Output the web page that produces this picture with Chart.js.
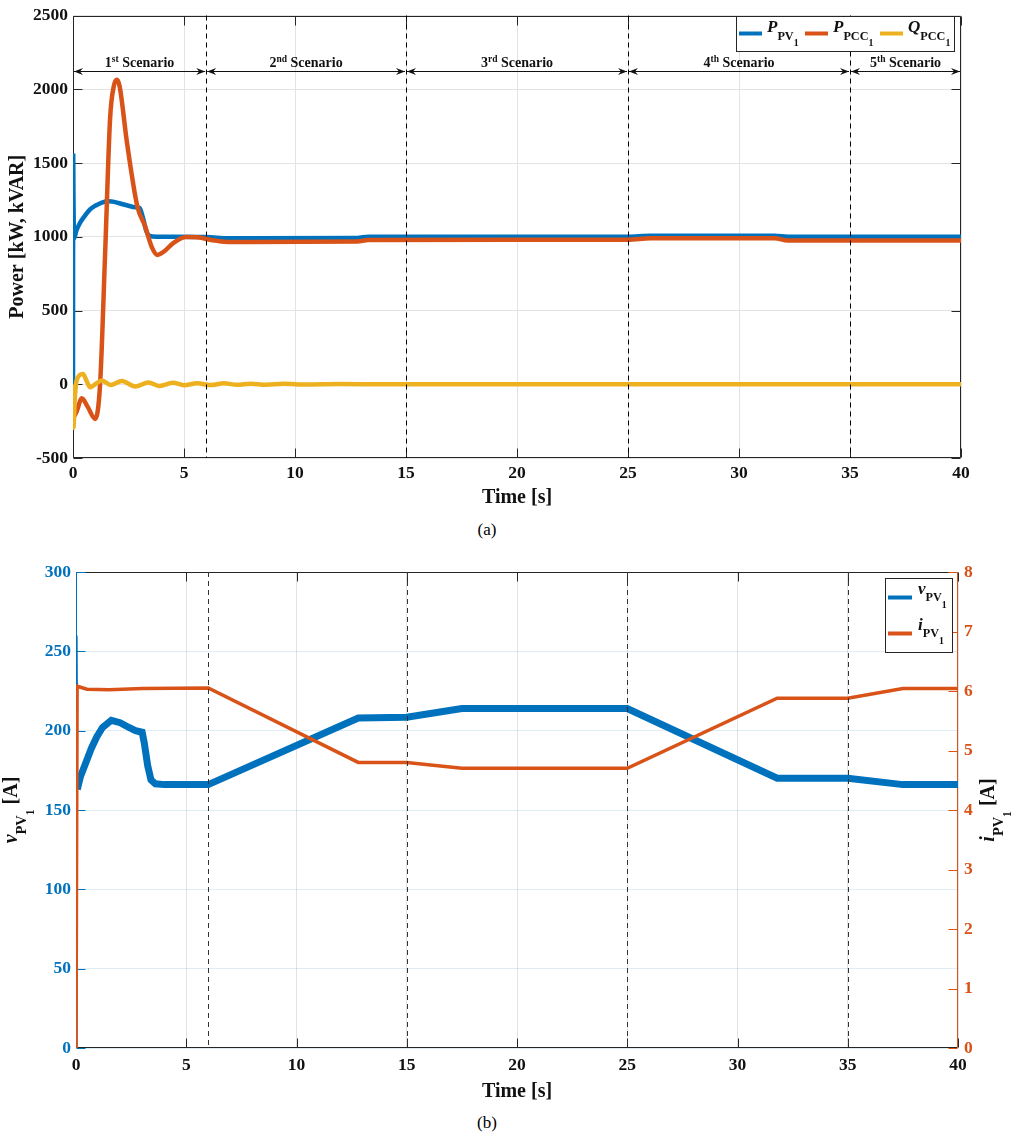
<!DOCTYPE html>
<html>
<head>
<meta charset="utf-8">
<title>PV power and voltage/current</title>
<script src="https://cdn.jsdelivr.net/npm/chart.js@4.4.0/dist/chart.umd.min.js"></script>
<style>
  body { margin: 0; background: #fff; width: 1017px; height: 1138px; position: relative; overflow: hidden; }
  canvas { position: absolute; left: 0; }
  #powerChart { top: 0; }
  #pvChart { top: 540px; }
  .cap { position: absolute; width: 40px; text-align: center; font: 17px "Liberation Serif", serif; line-height: 20px; color: #000; }
</style>
</head>
<body>
<canvas id="powerChart" width="1017" height="515"></canvas>
<div class="cap" style="left:467px; top:520px;">(a)</div>
<canvas id="pvChart" width="1017" height="570"></canvas>
<div class="cap" style="left:467px; top:1113px;">(b)</div>
<script>
const BLUE = '#0072BD', ORANGE = '#D95319', YELLOW = '#EDB120', INK = '#262626';
const SERIF = '"Liberation Serif", "Times New Roman", serif';

// (a) powers at the PV unit and the PCC
const tPV  = [0, 0.01, 0.02, 0.05, 0.15, 0.3, 0.5, 0.77, 1.0, 1.3, 1.6, 1.9, 2.2, 2.5, 2.8, 3.0, 3.15, 3.3, 3.45, 3.8, 6.0, 7.0, 12.8, 13.3, 25, 26, 31.6, 32.2, 40];
const pPV  = [0, 1550, 1300, 990, 1040, 1090, 1135, 1185, 1210, 1232, 1240, 1235, 1222, 1210, 1200, 1195, 1130, 1040, 1005, 1000, 998, 990, 992, 1000, 1000, 1006, 1006, 1000, 1000];

const tPCC = [0, 0.15, 0.4, 0.65, 1.0, 1.22, 1.45, 1.67, 1.85, 1.98, 2.1, 2.43, 2.9, 3.25, 3.55, 3.8, 4.1, 4.5, 5.1, 5.7, 6.0, 6.5, 7.0, 12.8, 13.3, 25, 26, 31.6, 32.2, 40];
const pPCC = [-230, -190, -95, -150, -235, 0, 900, 1800, 2030, 2065, 2020, 1640, 1205, 1070, 930, 877, 900, 955, 998, 995, 985, 972, 965, 968, 978, 980, 990, 990, 975, 975];

const tQ   = [0, 0.02, 0.08, 0.17, 0.45, 0.62, 0.77, 1.0, 1.3, 1.7, 2.2, 2.8, 3.4, 3.9, 4.5, 5.0, 5.6, 6.2, 6.8, 7.4, 8.0, 8.7, 9.5, 10.5, 12, 14, 40];
const qPCC = [0, -295, -100, 30, 70, 20, -20, 0, 25, -5, 22, -15, 12, -12, 10, -6, 6, -5, 6, -4, 4, -3, 3, -2, 1, 0, 0];

// (b) PV voltage and current
const tV  = [0, 0.04, 0.05, 0.06, 0.07, 0.2, 0.48, 0.7, 0.94, 1.2, 1.6, 2.0, 2.4, 2.7, 3.0, 3.1, 3.25, 3.4, 3.6, 4.0, 6.0, 12.8, 15, 17.5, 25, 31.8, 35, 37.5, 40];
const vPV = [0, 260, 230, 163, 163, 171, 181, 189, 196, 202, 206.5, 205, 202, 200, 199, 192, 178, 169, 166.5, 166, 166, 208, 208.5, 214, 214, 170, 170, 166, 166];

const tI  = [0, 0.05, 0.5, 1.5, 3.0, 6.0, 12.8, 15, 17.5, 25, 31.8, 35, 37.5, 40];
const iPV = [0, 6.08, 6.03, 6.02, 6.04, 6.05, 4.8, 4.8, 4.7, 4.7, 5.88, 5.88, 6.04, 6.04];

const scenarioEdges = [0, 6, 15, 25, 35, 40];
const scenarioNums = ['1', '2', '3', '4', '5'];
const scenarioSups = ['st', 'nd', 'rd', 'th', 'th'];

const pts = (ts, vs) => ts.map((t, i) => ({ x: t, y: vs[i] }));
const f = (style, size) => `${style} ${size}px ${SERIF}`;
const plain = v => String(v);

function richText(ctx, parts, x, y, align) {
  let w = 0;
  parts.forEach(p => { ctx.font = p.font; w += ctx.measureText(p.text).width; });
  let cx = align === 'center' ? x - w / 2 : x;
  ctx.textAlign = 'left';
  ctx.textBaseline = 'alphabetic';
  parts.forEach(p => {
    ctx.font = p.font;
    ctx.fillText(p.text, cx, y + (p.dy || 0));
    cx += ctx.measureText(p.text).width;
  });
  return w;
}

// italic symbol with bold subscript and a second-level "1"
const subLabel = (main, sub, size) => [
  { text: main, font: f('italic bold', size) },
  { text: sub, font: f('bold', size * 0.72), dy: size * 0.45 },
  { text: '1', font: f('bold', size * 0.58), dy: size * 0.85 }
];

function seg(ctx, x1, y1, x2, y2, color) {
  ctx.strokeStyle = color;
  ctx.beginPath();
  ctx.moveTo(x1, y1);
  ctx.lineTo(x2, y2);
  ctx.stroke();
}

// box with inward ticks, MATLAB style
function drawFrame(chart, leftColor, rightColor, rightScale) {
  const { ctx, chartArea: a, scales } = chart;
  const tl = 9;
  ctx.save();
  ctx.lineWidth = 1;
  const L = Math.round(a.left) + 0.5, R = Math.round(a.right) - 0.5;
  const T = Math.round(a.top) + 0.5, B = Math.round(a.bottom) - 0.5;
  seg(ctx, L, T, R, T, INK);
  seg(ctx, L, B, R, B, INK);
  scales.x.ticks.forEach(t => {
    const x = Math.round(scales.x.getPixelForValue(t.value)) + 0.5;
    seg(ctx, x, B, x, B - tl, INK);
    seg(ctx, x, T, x, T + tl, INK);
  });
  seg(ctx, L, T, L, B, leftColor);
  scales.y.ticks.forEach(t => {
    const y = Math.round(scales.y.getPixelForValue(t.value)) + 0.5;
    seg(ctx, L, y, L + tl, y, leftColor);
  });
  seg(ctx, R, T, R, B, rightColor);
  const rs = scales[rightScale];
  rs.ticks.forEach(t => {
    const y = Math.round(rs.getPixelForValue(t.value)) + 0.5;
    seg(ctx, R, y, R - tl, y, rightColor);
  });
  ctx.restore();
}

function drawScenarioLines(chart, color) {
  const { ctx, chartArea: a, scales } = chart;
  ctx.save();
  ctx.lineWidth = 1;
  ctx.setLineDash([5, 4]);
  scenarioEdges.slice(1, -1).forEach(v => {
    const x = Math.round(scales.x.getPixelForValue(v)) + 0.5;
    seg(ctx, x, a.top, x, a.bottom, color);
  });
  ctx.restore();
}

function arrowHead(ctx, x, y, dir) {
  ctx.beginPath();
  ctx.moveTo(x, y);
  ctx.lineTo(x - dir * 9, y - 3.5);
  ctx.lineTo(x - dir * 6, y);
  ctx.lineTo(x - dir * 9, y + 3.5);
  ctx.closePath();
  ctx.fill();
}

const powerPlugin = {
  id: 'powerDecor',
  beforeDatasetsDraw(chart) {
    drawFrame(chart, INK, INK, 'y');
  },
  afterDatasetsDraw(chart) {
    const { ctx, chartArea: a, scales } = chart;
    drawScenarioLines(chart, '#000');
    // scenario spans
    ctx.save();
    ctx.fillStyle = '#111';
    ctx.strokeStyle = '#111';
    ctx.lineWidth = 1;
    const ay = 71.5;
    for (let i = 0; i < scenarioNums.length; i++) {
      const x1 = scales.x.getPixelForValue(scenarioEdges[i]) + 1;
      const x2 = scales.x.getPixelForValue(scenarioEdges[i + 1]) - 1;
      seg(ctx, x1, ay, x2, ay, '#111');
      arrowHead(ctx, x1, ay, -1);
      arrowHead(ctx, x2, ay, 1);
      richText(ctx, [
        { text: scenarioNums[i], font: f('bold', 14) },
        { text: scenarioSups[i], font: f('bold', 9.5), dy: -5 },
        { text: ' Scenario', font: f('bold', 14) }
      ], (x1 + x2) / 2, 67, 'center');
    }
    ctx.restore();

    // legend
    ctx.save();
    ctx.fillStyle = '#fff';
    ctx.fillRect(736, 16, 218, 35);
    ctx.strokeStyle = INK;
    ctx.lineWidth = 1;
    ctx.strokeRect(736.5, 16.5, 218, 35);
    const items = [
      { c: BLUE, x: 739, main: 'P', sub: 'PV' },
      { c: ORANGE, x: 805, main: 'P', sub: 'PCC' },
      { c: YELLOW, x: 880, main: 'Q', sub: 'PCC' }
    ];
    items.forEach(it => {
      ctx.lineWidth = 4;
      seg(ctx, it.x, 33.5, it.x + 23, 33.5, it.c);
      ctx.fillStyle = '#111';
      richText(ctx, subLabel(it.main, it.sub, 17), it.x + 28, 32);
    });
    ctx.restore();

    // axis titles
    ctx.save();
    ctx.fillStyle = '#111';
    ctx.font = f('bold', 20);
    ctx.textAlign = 'center';
    ctx.textBaseline = 'middle';
    ctx.fillText('Time [s]', (a.left + a.right) / 2, 498);
    ctx.translate(18, (a.top + a.bottom) / 2);
    ctx.rotate(-Math.PI / 2);
    ctx.fillText('Power [kW, kVAR]', 0, 0);
    ctx.restore();
  }
};

const pvPlugin = {
  id: 'pvDecor',
  beforeDatasetsDraw(chart) {
    drawFrame(chart, BLUE, ORANGE, 'y1');
  },
  afterDatasetsDraw(chart) {
    const { ctx, chartArea: a } = chart;
    drawScenarioLines(chart, '#333');

    // legend
    ctx.save();
    ctx.fillStyle = '#fff';
    ctx.fillRect(885, 38, 67, 74);
    ctx.strokeStyle = INK;
    ctx.lineWidth = 1;
    ctx.strokeRect(885.5, 38.5, 67, 74);
    [{ c: BLUE, y: 57.5, main: 'v' }, { c: ORANGE, y: 93.5, main: 'i' }].forEach(it => {
      ctx.lineWidth = 4;
      seg(ctx, 888, it.y, 912, it.y, it.c);
      ctx.fillStyle = '#111';
      richText(ctx, subLabel(it.main, 'PV', 17), 918, it.y - 4);
    });
    ctx.restore();

    // axis titles
    ctx.save();
    ctx.fillStyle = '#111';
    ctx.font = f('bold', 20);
    ctx.textAlign = 'center';
    ctx.textBaseline = 'middle';
    ctx.fillText('Time [s]', (a.left + a.right) / 2, 552);
    const cy = (a.top + a.bottom) / 2;
    [{ x: 17, main: 'v' }, { x: 994, main: 'i' }].forEach(t => {
      ctx.save();
      ctx.translate(t.x, cy);
      ctx.rotate(-Math.PI / 2);
      richText(ctx, subLabel(t.main, 'PV', 20).concat([{ text: ' [A]', font: f('bold', 20) }]), 0, 0, 'center');
      ctx.restore();
    });
    ctx.restore();
  }
};

const tickFont = { family: SERIF, size: 17.5, weight: 'bold' };
const baseOpts = {
  responsive: false,
  animation: false,
  devicePixelRatio: 1,
  events: [],
  plugins: { legend: { display: false }, tooltip: { enabled: false } },
  elements: { point: { radius: 0 } }
};

new Chart(document.getElementById('powerChart'), {
  type: 'line',
  data: {
    datasets: [
      { data: pts(tPV, pPV), borderColor: BLUE, borderWidth: 4.5, cubicInterpolationMode: 'monotone', order: 3 },
      { data: pts(tPCC, pPCC), borderColor: ORANGE, borderWidth: 4.5, cubicInterpolationMode: 'monotone', order: 2 },
      { data: pts(tQ, qPCC), borderColor: YELLOW, borderWidth: 4.5, cubicInterpolationMode: 'monotone', order: 1 }
    ]
  },
  options: Object.assign({}, baseOpts, {
    layout: { padding: { left: 0, right: 56, top: 10, bottom: 0 } },
    scales: {
      x: {
        type: 'linear', min: 0, max: 40,
        ticks: { stepSize: 5, font: tickFont, color: '#111', padding: 5, maxRotation: 0, callback: plain },
        grid: { color: '#e3e3e3', drawTicks: false },
        border: { display: false },
        afterFit: s => { s.height = 57; }
      },
      y: {
        min: -500, max: 2500,
        ticks: { stepSize: 500, font: tickFont, color: '#111', padding: 5, callback: plain },
        grid: { color: '#e3e3e3', drawTicks: false },
        border: { display: false },
        afterFit: s => { s.width = 73; }
      }
    }
  }),
  plugins: [powerPlugin]
});

new Chart(document.getElementById('pvChart'), {
  type: 'line',
  data: {
    datasets: [
      {
        // the start-up spike is drawn thin, the rest with the heavy trace
        data: pts(tV, vPV), borderColor: BLUE, borderWidth: 7, yAxisID: 'y', order: 2,
        segment: { borderWidth: c => (c.p1.parsed.x <= 0.06 ? 1.5 : undefined) }
      },
      { data: pts(tI, iPV), borderColor: ORANGE, borderWidth: 3.5, yAxisID: 'y1', order: 1 }
    ]
  },
  options: Object.assign({}, baseOpts, {
    layout: { padding: { left: 0, right: 0, top: 32, bottom: 0 } },
    scales: {
      x: {
        type: 'linear', min: 0, max: 40,
        ticks: { stepSize: 5, font: tickFont, color: '#111', padding: 7, maxRotation: 0, callback: plain },
        grid: { color: '#e3e3e3', drawTicks: false },
        border: { display: false },
        afterFit: s => { s.height = 62; }
      },
      y: {
        position: 'left', min: 0, max: 300,
        ticks: { stepSize: 50, font: tickFont, color: BLUE, padding: 5, callback: plain },
        grid: { color: 'rgba(0,114,189,0.13)', drawTicks: false },
        border: { display: false },
        afterFit: s => { s.width = 76; }
      },
      y1: {
        position: 'right', min: 0, max: 8,
        ticks: { stepSize: 1, font: tickFont, color: ORANGE, padding: 6, callback: plain },
        grid: { display: false, drawTicks: false },
        border: { display: false },
        afterFit: s => { s.width = 59; }
      }
    }
  }),
  plugins: [pvPlugin]
});
</script>
</body>
</html>
